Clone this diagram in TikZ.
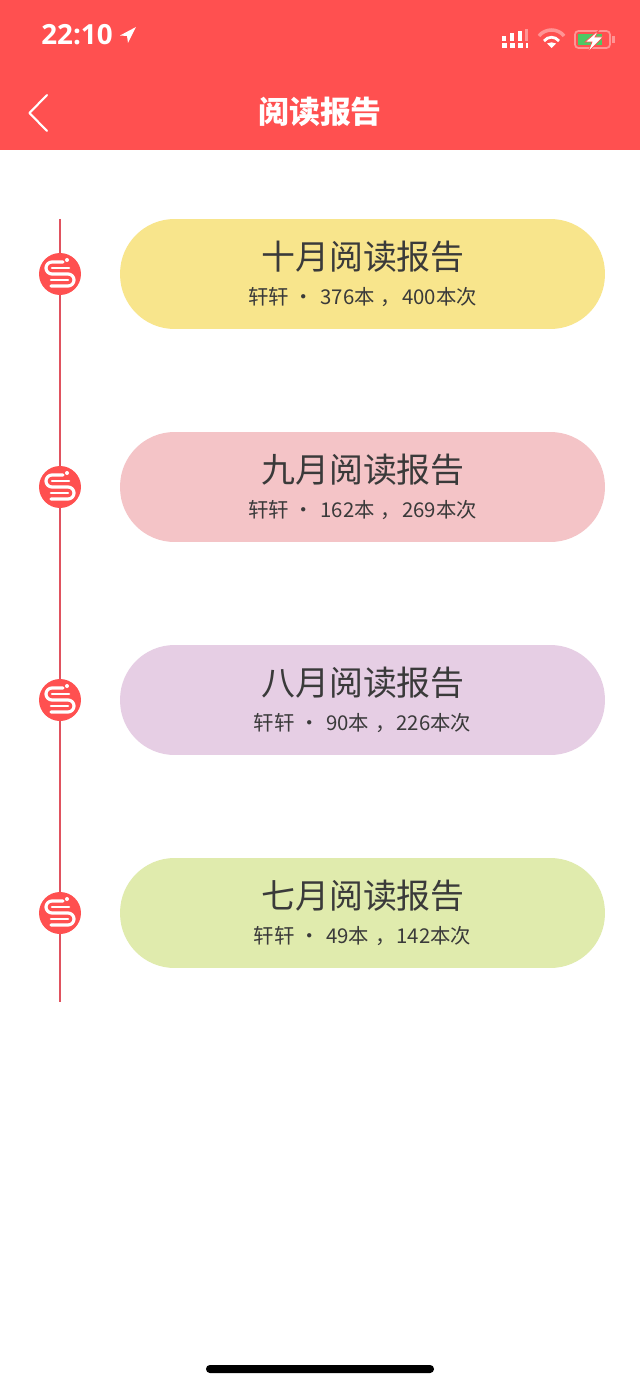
\documentclass[tikz,border=0pt]{standalone}
\usepackage{fontspec}
\usepackage{xcolor}
\usetikzlibrary{positioning}
\usetikzlibrary{calc}
\setmainfont{Noto Sans CJK SC}
\newfontfamily\latinfont{Open Sans}
\definecolor{barred}{HTML}{FF5050}
\definecolor{lightred}{HTML}{FF9494}
\definecolor{linered}{HTML}{E0525F}
\definecolor{battgreen}{HTML}{4CC864}
\definecolor{cardyellow}{HTML}{F8E58C}
\definecolor{cardpink}{HTML}{F4C4C7}
\definecolor{cardpurple}{HTML}{E6CEE4}
\definecolor{cardgreen}{HTML}{E0EBAD}
\definecolor{textgray}{HTML}{3A3A3A}
\newcommand{\subline}[2]{轩轩\hspace{2.9pt}·\hspace{3.5pt}#1本\hspace{3.4pt}，\hspace{0.6pt}#2本次}
\tikzset{
  card/.style={fill=#1, minimum width=9.7cm, minimum height=2.2cm, rounded corners=1.09cm, inner sep=0pt},
  cardtitle/.style={text=textgray, font=\fontsize{19.3}{22}\selectfont, inner sep=0pt},
  cardsub/.style={text=textgray, font=\fontsize{11.6}{13}\selectfont, inner sep=0pt},
  dot/.style={circle, fill=barred, minimum size=0.84cm, inner sep=0pt},
  timeline/.style={color=linered, line width=1.1pt},
  pics/snake/.style={code={
    \draw[white, line width=1.8pt, line cap=round, line join=round]
      (3,-12) -- (-8,-12) arc[start angle=90, end angle=270, radius=0.12cm]
      -- (8,0) arc[start angle=90, end angle=-90, radius=0.12cm] -- (-9,12);
    \draw[white, line width=1.5pt, line cap=round] (-8,-6) -- (9,-6);
    \draw[white, line width=1.5pt, line cap=round] (-9,6) -- (8,6);
    \fill[white] (7,-14) circle (2);
  }}
}
\begin{document}
\begin{tikzpicture}[x=0.02cm, y=-0.02cm]
\useasboundingbox (0,0) rectangle (640,1385);
\fill[white] (0,0) rectangle (640,1385);
\fill[barred] (0,0) rectangle (640,150);

% status bar
\node[text=white, font=\latinfont\bfseries\fontsize{15.8}{18}\selectfont, inner sep=0pt] (clock) at (77,34.5) {22:10};
\fill[white] (136,27) -- (120,35.5) -- (127,36) -- (128,43) -- cycle;
\fill[white] (502,43) rectangle (507,48);
\fill[white] (510,43) rectangle (515,48);
\fill[white] (518,43) rectangle (523,48);
\fill[white] (526,43) rectangle (528,48);
\fill[white] (502,36) rectangle (506,41);
\fill[white] (510,33) rectangle (514,41);
\fill[white] (518,31) rectangle (522,41);
\fill[lightred] (525,29) rectangle (528,41);
\draw[lightred, line width=2pt] (539,36) .. controls (545,28) and (558,28) .. (564,36);
\draw[white, line width=1.6pt] (544,41) .. controls (548,36) and (555,36) .. (559,41);
\fill[white] (551.5,48) -- (547,43.5) .. controls (550,42) and (553,42) .. (556,43.5) -- cycle;
\draw[lightred, line width=1pt, rounded corners=2pt] (575,31) rectangle (610,48);
\fill[lightred] (612,36) rectangle (615,43);
\fill[battgreen] (577.5,34) rectangle (602,45);
\fill[white, draw=barred, line width=0.4pt] (599,30) -- (585,42) -- (592,42) -- (588,52) -- (603,37) -- (595,37) -- cycle;

% navigation bar
\coordinate (backtop) at (47,95);
\coordinate (backmid) at (29.5,113);
\coordinate (backbot) at (47,131);
\draw[white, line width=1.2pt, line cap=round, line join=round] (backtop) -- (backmid) -- (backbot);
\node[text=white, font=\bfseries\fontsize{17.6}{20}\selectfont, inner sep=0pt] (navtitle) at (320,112) {阅读报告};

% cards
\node[card=cardyellow] (octcard) at (362.5,274) {};
\node[cardtitle] (octtitle) at (363,257) {十月阅读报告};
\node[cardsub] (octsub) at (362.5,297) {\subline{376}{400}};

\node[card=cardpink] (sepcard) at (362.5,487) {};
\node[cardtitle] (septitle) at (363,470) {九月阅读报告};
\node[cardsub] (sepsub) at (362.5,510) {\subline{162}{269}};

\node[card=cardpurple] (augcard) at (362.5,700) {};
\node[cardtitle] (augtitle) at (363,683) {八月阅读报告};
\node[cardsub] (augsub) at (362.5,723) {\subline{90}{226}};

\node[card=cardgreen] (julcard) at (362.5,913) {};
\node[cardtitle] (jultitle) at (363,896) {七月阅读报告};
\node[cardsub] (julsub) at (362.5,936) {\subline{49}{142}};

% time line
\coordinate (linetop) at (60,219);
\coordinate (linebot) at (60,1002);
\node[dot] (octdot) at (60,274) {};
\node[dot] (sepdot) at (60,487) {};
\node[dot] (augdot) at (60,700) {};
\node[dot] (juldot) at (60,913) {};
\draw[timeline] (linetop) -- (octdot);
\draw[timeline] (octdot) -- (sepdot);
\draw[timeline] (sepdot) -- (augdot);
\draw[timeline] (augdot) -- (juldot);
\draw[timeline] (juldot) -- (linebot);
\pic at (octdot) {snake};
\pic at (sepdot) {snake};
\pic at (augdot) {snake};
\pic at (juldot) {snake};

% home bar
\fill[black, rounded corners=2.2pt] (206,1365) rectangle (434,1373);
\end{tikzpicture}
\end{document}
